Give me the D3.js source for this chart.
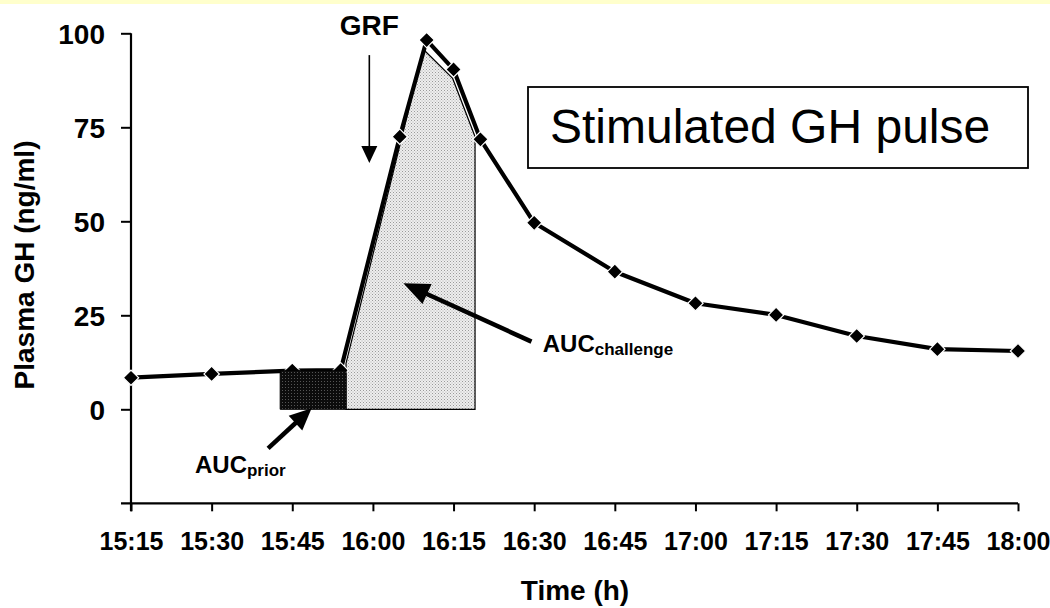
<!DOCTYPE html>
<html>
<head>
<meta charset="utf-8">
<script src="https://cdnjs.cloudflare.com/ajax/libs/d3/7.8.5/d3.min.js"></script>
<style>
  html, body { margin: 0; padding: 0; background: #ffffff; }
  svg { display: block; }
  text { font-family: "Liberation Sans", Arial, Helvetica, sans-serif; fill: #000; }
</style>
</head>
<body>
<svg id="chart" width="1050" height="608"></svg>
<script>
// ---------- data ----------
const sampleTimes = ["15:15","15:30","15:45","15:54","16:05","16:10","16:15","16:20","16:30","16:45","17:00","17:15","17:30","17:45","18:00"];
const ghValues    = [8.4, 9.4, 10.3, 10.4, 72.5, 98.2, 90.4, 71.8, 49.6, 36.6, 28.2, 25.1, 19.5, 16.0, 15.5];

const xTickLabels = ["15:15","15:30","15:45","16:00","16:15","16:30","16:45","17:00","17:15","17:30","17:45","18:00"];
const yTickValues = [0, 25, 50, 75, 100];
const yDomain     = [-25, 100];

// shaded AUC regions
const challengeTimes  = ["15:55:00","16:09:25","16:14:50","16:19:00","16:19:00","15:55:00"];
const challengeValues = [12.2, 95.7, 88.0, 72.5, 0, 0];
const priorTimes      = ["15:42:45","15:55:00","15:55:00","15:42:45"];
const priorValues     = [10.4, 10.4, 0, 0];

// annotation arrows [time, value]
const grfArrow       = [["15:59:20", 94.2], ["15:59:20", 65.5]];
const challengeArrow = [["16:29:30", 18.0], ["16:05:40", 33.5]];
const priorArrow     = [["15:40:30", -10.4], ["15:48:36", 0.3]];

const titleText = "Stimulated GH pulse";
const xTitle = "Time (h)";
const yTitle = "Plasma GH (ng/ml)";

// ---------- helpers ----------
function toMin(s) {
  const p = s.split(":").map(Number);
  return p[0] * 60 + p[1] + (p[2] || 0) / 60;
}

// ---------- scales ----------
const svg = d3.select("#chart");
const x = d3.scaleLinear().domain([toMin("15:15"), toMin("18:00")]).range([131, 1018]);
const y = d3.scaleLinear().domain(yDomain).range([503.3, 33.3]);

// top yellow band
svg.append("rect").attr("x", 0).attr("y", 0).attr("width", 1050).attr("height", 4).attr("fill", "#ffffcc");

// patterns
const defs = svg.append("defs");
const pl = defs.append("pattern").attr("id", "lightDots").attr("width", 3).attr("height", 3).attr("patternUnits", "userSpaceOnUse");
pl.append("rect").attr("width", 3).attr("height", 3).attr("fill", "#eeeeee");
pl.append("rect").attr("x", 0).attr("y", 0).attr("width", 1).attr("height", 1).attr("fill", "#9a9a9a");
pl.append("rect").attr("x", 1.5).attr("y", 1.5).attr("width", 1).attr("height", 1).attr("fill", "#b0b0b0");
const pd = defs.append("pattern").attr("id", "darkDots").attr("width", 3).attr("height", 3).attr("patternUnits", "userSpaceOnUse");
pd.append("rect").attr("width", 3).attr("height", 3).attr("fill", "#0c0c0c");
pd.append("rect").attr("x", 0).attr("y", 0).attr("width", 1).attr("height", 1).attr("fill", "#555555");

// ---------- axes ----------
const xAxis = d3.axisBottom(x)
  .tickValues(xTickLabels.map(toMin))
  .tickFormat((d, i) => xTickLabels[i])
  .tickSize(8).tickPadding(20).tickSizeOuter(0);
const gx = svg.append("g").attr("transform", `translate(0,${y(yDomain[0])})`).call(xAxis);
gx.select(".domain").attr("stroke", "#000").attr("stroke-width", 2.2).attr("d", `M${x.range()[0] - 10},0H${x.range()[1]}`);
gx.selectAll(".tick line").attr("stroke", "#000").attr("stroke-width", 2);
gx.selectAll(".tick text").attr("font-size", 25).attr("font-weight", "bold").attr("font-family", "Liberation Sans, Arial, sans-serif").attr("dy", 0).attr("y", 46.5);

const yAxis = d3.axisLeft(y).tickValues(yTickValues).tickSize(10).tickPadding(16).tickSizeOuter(0);
const gy = svg.append("g").attr("transform", `translate(${x.range()[0]},0)`).call(yAxis);
gy.select(".domain").attr("stroke", "#000").attr("stroke-width", 2.2).attr("d", `M0,${y(100)}V${y(yDomain[0]) + 8}`);
gy.selectAll(".tick line").attr("stroke", "#000").attr("stroke-width", 2);
gy.selectAll(".tick text").attr("font-size", 28).attr("font-weight", "bold").attr("font-family", "Liberation Sans, Arial, sans-serif").attr("dy", "0.36em");

// axis titles
svg.append("text").attr("x", 575).attr("y", 600).attr("text-anchor", "middle")
  .attr("font-size", 28).attr("font-weight", "bold").text(xTitle);
svg.append("text").attr("transform", "translate(34,265) rotate(-90)").attr("text-anchor", "middle")
  .attr("font-size", 28).attr("font-weight", "bold").text(yTitle);

// ---------- challenge AUC polygon ----------
const areaPts = challengeTimes.map((t, i) => [x(toMin(t)), y(challengeValues[i])]);
svg.append("path").attr("d", d3.line()(areaPts) + "Z")
  .attr("fill", "url(#lightDots)").attr("stroke", "#000").attr("stroke-width", 1.2);

// ---------- data line ----------
const pts = sampleTimes.map((t, i) => ({ t: toMin(t), v: ghValues[i] }));
svg.append("path").datum(pts)
  .attr("d", d3.line().x(d => x(d.t)).y(d => y(d.v)))
  .attr("fill", "none").attr("stroke", "#000").attr("stroke-width", 4.2).attr("stroke-linejoin", "round");

svg.append("g").selectAll("path").data(pts).join("path")
  .attr("d", d3.symbol(d3.symbolSquare, 118)())
  .attr("transform", d => `translate(${x(d.t)},${y(d.v)}) rotate(45)`)
  .attr("fill", "#000").attr("stroke", "#fff").attr("stroke-width", 1.2);

// ---------- prior AUC box ----------
const priorPts = priorTimes.map((t, i) => [x(toMin(t)), y(priorValues[i])]);
svg.append("path").attr("d", d3.line()(priorPts) + "Z")
  .attr("fill", "url(#darkDots)").attr("stroke", "#000").attr("stroke-width", 1);

// ---------- arrows ----------
function arrow(pair, width, headLen, headHalf) {
  const [a, b] = pair.map(p => [x(toMin(p[0])), y(p[1])]);
  const dx = b[0] - a[0], dy = b[1] - a[1];
  const L = Math.hypot(dx, dy), ux = dx / L, uy = dy / L;
  const base = [b[0] - ux * headLen, b[1] - uy * headLen];
  svg.append("line").attr("x1", a[0]).attr("y1", a[1]).attr("x2", base[0] + ux * 2).attr("y2", base[1] + uy * 2)
    .attr("stroke", "#000").attr("stroke-width", width);
  const p1 = [base[0] - uy * headHalf, base[1] + ux * headHalf];
  const p2 = [base[0] + uy * headHalf, base[1] - ux * headHalf];
  svg.append("path").attr("d", `M${b[0]},${b[1]}L${p1[0]},${p1[1]}L${p2[0]},${p2[1]}Z`).attr("fill", "#000");
}
arrow(grfArrow, 1.6, 17, 8);
arrow(challengeArrow, 4.5, 26, 11);
arrow(priorArrow, 4.5, 22, 10);

// ---------- labels ----------
svg.append("text").attr("x", x(toMin("15:59:20"))).attr("y", 35).attr("text-anchor", "middle")
  .attr("font-size", 28).attr("font-weight", "bold").text("GRF");

const lc = svg.append("text").attr("x", x(toMin("16:31:36"))).attr("y", y(15.3))
  .attr("font-size", 24).attr("font-weight", "bold");
lc.append("tspan").text("AUC");
lc.append("tspan").attr("font-size", 17).attr("dy", 3).text("challenge");

const lp = svg.append("text").attr("x", x(toMin("15:26:54"))).attr("y", y(-17))
  .attr("font-size", 24).attr("font-weight", "bold");
lp.append("tspan").text("AUC");
lp.append("tspan").attr("font-size", 17).attr("dy", 3).text("prior");

// ---------- title box ----------
svg.append("rect").attr("x", 528).attr("y", 87).attr("width", 500).attr("height", 81)
  .attr("fill", "#fff").attr("stroke", "#000").attr("stroke-width", 1.8);
svg.append("text").attr("x", 550).attr("y", 143).attr("font-size", 48).text(titleText);
</script>
</body>
</html>
